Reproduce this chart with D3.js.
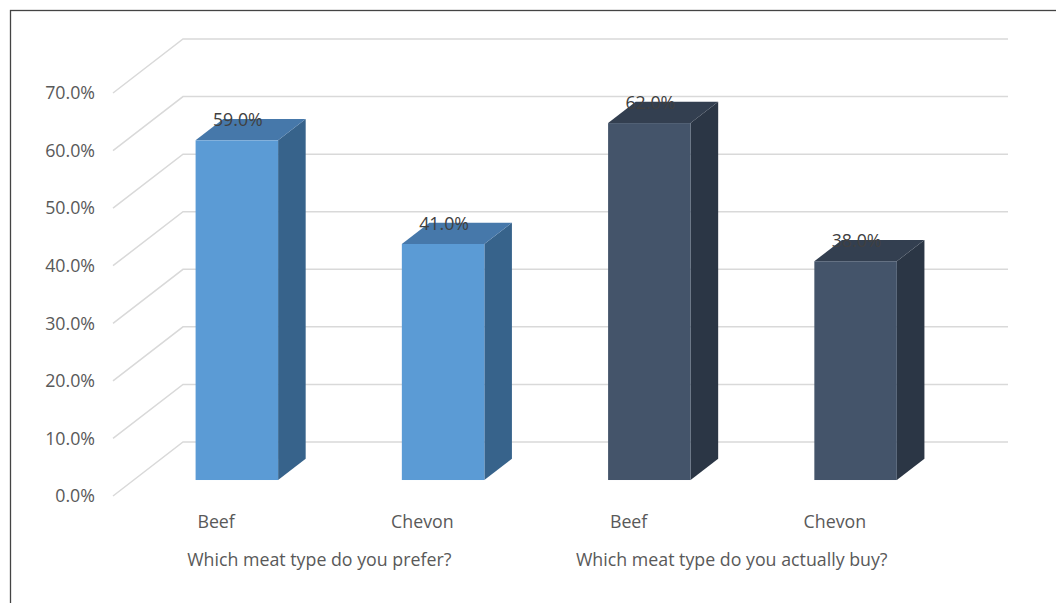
<!DOCTYPE html>
<html><head><meta charset="utf-8">
<script src="https://cdn.jsdelivr.net/npm/d3@7"></script>
<style>body{margin:0;background:#fff}svg{display:block}text{font-family:"Open Sans",sans-serif}</style>
</head><body><svg id="c" width="1056" height="603"></svg>
<script>
const categories = ["Beef","Chevon","Beef","Chevon"];
const groups = ["Which meat type do you prefer?","Which meat type do you actually buy?"];
const groupOf = [0,0,1,1];
const values = [59.0,41.0,62.0,38.0];
const ticks = [0,10,20,30,40,50,60,70];
const tickLabels = ["0.0%","10.0%","20.0%","30.0%","40.0%","50.0%","60.0%","70.0%"];
const valueLabels = ["59.0%","41.0%","62.0%","38.0%"];
const faceColors = [
  {front:"#5B9BD5", top:"#4678AA", side:"#37638B"},
  {front:"#44546A", top:"#333F50", side:"#2B3645"}
];

const svg = d3.select("#c");
svg.append("rect").attr("x",10.5).attr("y",10.5).attr("width",1200).attr("height",800)
  .attr("fill","none").attr("stroke","#444").attr("stroke-width",1.3);

const depthX = -70, depthY = 54;
const y = d3.scaleLinear().domain([0,70]).range([442,39]);
const x = d3.scaleBand().domain(d3.range(categories.length)).range([183,1008]);
const P = (xb, v, d) => [xb + d*depthX, y(v) + d*depthY];
const FS = 17.8;

const g = svg.append("g");
ticks.forEach(t => {
  const [x0,y0] = P(183,t,0), [x1,y1] = P(183,t,1), [x2] = P(1008,t,0);
  g.append("path").attr("d",`M${x1},${y1}L${x0},${y0}L${x2},${y0}`)
    .attr("fill","none").attr("stroke","#D9D9D9").attr("stroke-width",1.5);
});
ticks.forEach((t,i) => {
  const [,yy] = P(183,t,1);
  g.append("text").attr("x",95).attr("y",yy).attr("dy","0.35em").attr("text-anchor","end")
    .attr("font-size",FS).attr("fill","#595959").text(tickLabels[i]);
});

const dFront = 0.704, dBack = 0.31;
const bw = x.bandwidth()*0.4;
values.forEach((v,i) => {
  const c = faceColors[groupOf[i]];
  const cx = x(i)+x.bandwidth()/2;
  const [fl,ft] = P(cx-bw/2,v,dFront), [fr] = P(cx+bw/2,v,dFront);
  const [,fb] = P(cx,0,dFront);
  const [bl,bt] = P(cx-bw/2,v,dBack), [br] = P(cx+bw/2,v,dBack);
  const [,bb] = P(cx,0,dBack);
  g.append("path").attr("d",`M${fr},${ft}L${br},${bt}L${br},${bb}L${fr},${fb}Z`).attr("fill",c.side);
  g.append("path").attr("d",`M${fl},${ft}L${bl},${bt}L${br},${bt}L${fr},${ft}Z`).attr("fill",c.top);
  g.append("rect").attr("x",fl).attr("y",ft).attr("width",fr-fl).attr("height",fb-ft).attr("fill",c.front);
});
values.forEach((v,i) => {
  const cx = x(i)+x.bandwidth()/2;
  const [fx,fy] = P(cx,v,dFront);
  g.append("text").attr("x",fx+1).attr("y",fy-14).attr("text-anchor","middle")
    .attr("font-size",FS).attr("fill","#404040").text(valueLabels[i]);
});
categories.forEach((cat,i) => {
  const [fx] = P(x(i)+x.bandwidth()/2,0,1);
  g.append("text").attr("x",fx).attr("y",528).attr("text-anchor","middle")
    .attr("font-size",FS).attr("fill","#595959").text(cat);
});
groups.forEach((gname,k) => {
  const idx = d3.range(categories.length).filter(i => groupOf[i]===k);
  const [x0] = P(x(idx[0]),0,1), [x1] = P(x(idx[idx.length-1])+x.bandwidth(),0,1);
  g.append("text").attr("x",(x0+x1)/2).attr("y",566).attr("text-anchor","middle")
    .attr("font-size",FS).attr("fill","#595959").text(gname);
});
</script></body></html>
